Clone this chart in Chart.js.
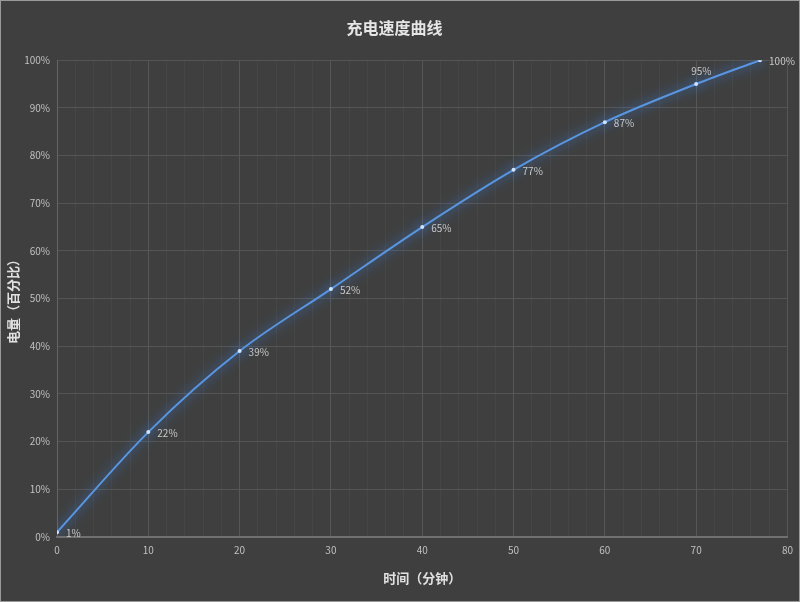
<!DOCTYPE html>
<html>
<head>
<meta charset="utf-8">
<script src="https://cdn.jsdelivr.net/npm/chart.js@4"></script>
<style>
  html, body { margin: 0; padding: 0; background: #3f3f3f; }
  canvas { display: block; }
</style>
</head>
<body>
<canvas id="chart" width="800" height="602"></canvas>
<script>
// Chart data
const minutes = [0, 10, 20, 30, 40, 50, 60, 70, 77];
const charge = [1, 22, 39, 52, 65, 77, 87, 95, 100];
const chartTitle = "充电速度曲线";
const xTitle = "时间（分钟）";
const yTitle = "电量（百分比）";

const FONT = "'Noto Sans CJK SC', 'Noto Sans', sans-serif";

// background + outer border
const bgPlugin = {
  id: "bg",
  beforeDraw(chart) {
    const c = chart.ctx;
    c.save();
    c.fillStyle = "#3f3f3f";
    c.fillRect(0, 0, chart.width, chart.height);
    c.strokeStyle = "#9a9a9a";
    c.lineWidth = 1;
    c.strokeRect(0.5, 0.5, chart.width - 1, chart.height - 1);
    c.restore();
  }
};

// glow around the line
const glowPlugin = {
  id: "glow",
  beforeDatasetDraw(chart) {
    const c = chart.ctx;
    c.save();
    c.shadowColor = "rgba(60,140,255,1)";
    c.shadowBlur = 12;
  },
  afterDatasetDraw(chart) {
    chart.ctx.restore();
  }
};

// value labels next to the points
const labelPlugin = {
  id: "valueLabels",
  afterDatasetsDraw(chart) {
    const c = chart.ctx;
    const meta = chart.getDatasetMeta(0);
    c.save();
    c.font = "10px " + FONT;
    c.fillStyle = "#c8c8c8";
    c.textBaseline = "middle";
    c.textAlign = "left";
    meta.data.forEach((pt, i) => {
      const txt = charge[i] + "%";
      if (i === meta.data.length - 2) {
        // this one sits above the line
        c.fillText(txt, pt.x - 5, pt.y - 13);
      } else {
        c.fillText(txt, pt.x + 9, pt.y + 1);
      }
    });
    c.restore();
  }
};

new Chart(document.getElementById("chart"), {
  type: "line",
  data: {
    datasets: [{
      data: minutes.map((m, i) => ({ x: m, y: charge[i] })),
      borderColor: "#5a95e0",
      borderWidth: 2,
      cubicInterpolationMode: "monotone",
      pointRadius: 2,
      pointBackgroundColor: "#cfe2ff",
      pointBorderWidth: 0,
      fill: false
    }]
  },
  options: {
    responsive: false,
    devicePixelRatio: 1,
    animation: false,
    layout: { padding: { top: 0, right: 11, bottom: 0, left: 0 } },
    plugins: {
      legend: { display: false },
      tooltip: { enabled: false },
      title: {
        display: true,
        text: chartTitle,
        color: "#e6e6e6",
        font: { family: FONT, size: 16, weight: "bold" },
        padding: { top: 18, bottom: 23 }
      }
    },
    scales: {
      x: {
        type: "linear",
        min: 0,
        max: 80,
        afterFit: s => { s.height = 65; },
        border: { color: "#707070", width: 2 },
        grid: {
          drawTicks: false,
          color: ctx => (ctx.tick && ctx.tick.value % 10 === 0) ? "#575757" : "#464646"
        },
        ticks: {
          stepSize: 2,
          autoSkip: false,
          maxRotation: 0,
          padding: 7,
          color: "#c0c0c0",
          font: { family: FONT, size: 10 },
          callback: v => (v % 10 === 0 ? v : "")
        },
        title: {
          display: true,
          text: xTitle,
          color: "#e0e0e0",
          font: { family: FONT, size: 13, weight: "bold" },
          padding: { top: 0, bottom: 16 }
        }
      },
      y: {
        min: 0,
        max: 100,
        afterFit: s => { s.width = 57; },
        border: { color: "#656565", width: 1 },
        grid: { drawTicks: false, color: "#555555" },
        ticks: {
          stepSize: 10,
          padding: 7,
          color: "#c0c0c0",
          font: { family: FONT, size: 10 },
          callback: v => v + "%"
        },
        title: {
          display: true,
          text: yTitle,
          color: "#e0e0e0",
          font: { family: FONT, size: 13, weight: "bold" },
          padding: { top: 5, bottom: 0 }
        }
      }
    }
  },
  plugins: [bgPlugin, glowPlugin, labelPlugin]
});
</script>
</body>
</html>
